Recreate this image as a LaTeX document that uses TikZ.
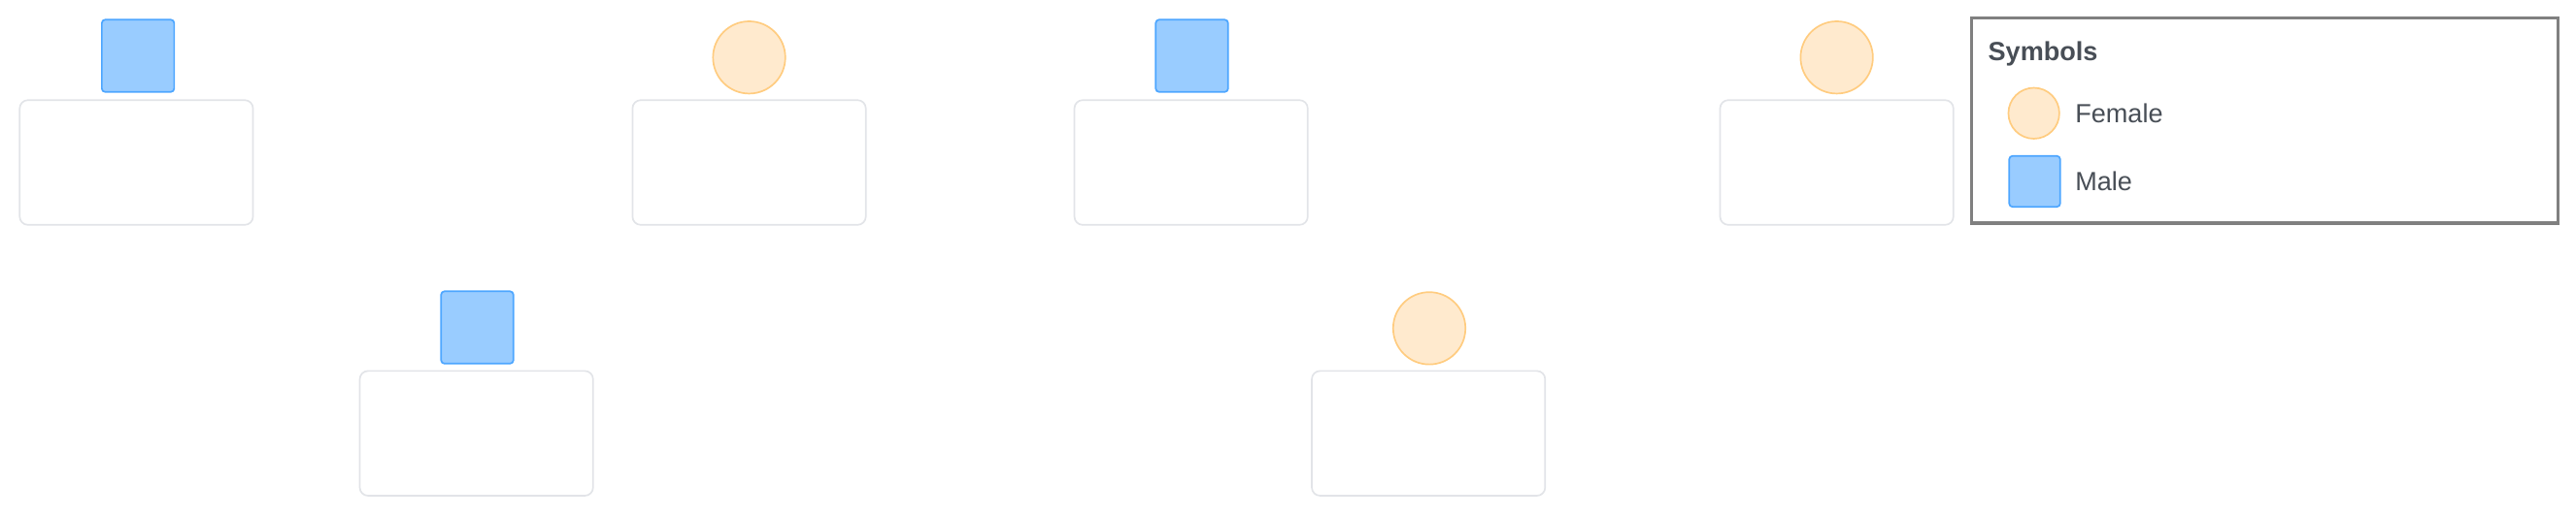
\documentclass[tikz,border=0pt]{standalone}
\usepackage{fontspec}
\setmainfont{Liberation Sans}
\usepackage{tikz}

\definecolor{malefill}{RGB}{153,204,255}
\definecolor{maleline}{RGB}{77,166,255}
\definecolor{femfill}{RGB}{255,234,206}
\definecolor{femline}{RGB}{255,204,128}
\definecolor{cardline}{RGB}{226,228,232}
\definecolor{legline}{RGB}{128,128,128}
\definecolor{legtext}{RGB}{72,78,86}

\begin{document}
\begin{tikzpicture}
  [x=1pt,y=-1pt,
   male/.style={rectangle, rounded corners=2pt, fill=malefill, draw=maleline, line width=1pt, minimum size=44pt, inner sep=0pt},
   female/.style={circle, fill=femfill, draw=femline, line width=1pt, minimum size=44pt, inner sep=0pt},
   card/.style={rectangle, rounded corners=5pt, draw=cardline, line width=1pt, minimum width=142pt, minimum height=76pt, inner sep=0pt},
   legtxt/.style={text=legtext, font=\fontsize{16}{19}\selectfont, anchor=west, inner sep=0pt}]
  \useasboundingbox (0,0) rectangle (1568,316);

  % persons: symbol and card
  \node[male]   (p1) at (84,34)    {};
  \node[card]   (c1) at (83,99)    {};
  \node[female] (p2) at (456,35)   {};
  \node[card]   (c2) at (456,99)   {};
  \node[male]   (p3) at (725.5,34) {};
  \node[card]   (c3) at (725,99)   {};
  \node[female] (p4) at (1118,35)  {};
  \node[card]   (c4) at (1118,99)  {};
  \node[male]   (p5) at (290.5,199.5) {};
  \node[card]   (c5) at (290,264)  {};
  \node[female] (p6) at (870,200)  {};
  \node[card]   (c6) at (869.5,264) {};

  % legend
  \node[rectangle, draw=legline, line width=2pt, minimum width=357pt, minimum height=125pt, inner sep=0pt] (legend) at (1378.5,73.5) {};
  \node[legtxt, font=\fontsize{16}{19}\selectfont\bfseries] (legtitle) at (1210,33) {Symbols};
  \node[female, minimum size=31pt] (legf) at (1238,69) {};
  \node[legtxt] (legftxt) at (1263,69) {Female};
  \node[male, minimum size=31pt] (legm) at (1238.5,110.5) {};
  \node[legtxt] (legmtxt) at (1263,110.5) {Male};
\end{tikzpicture}
\end{document}
